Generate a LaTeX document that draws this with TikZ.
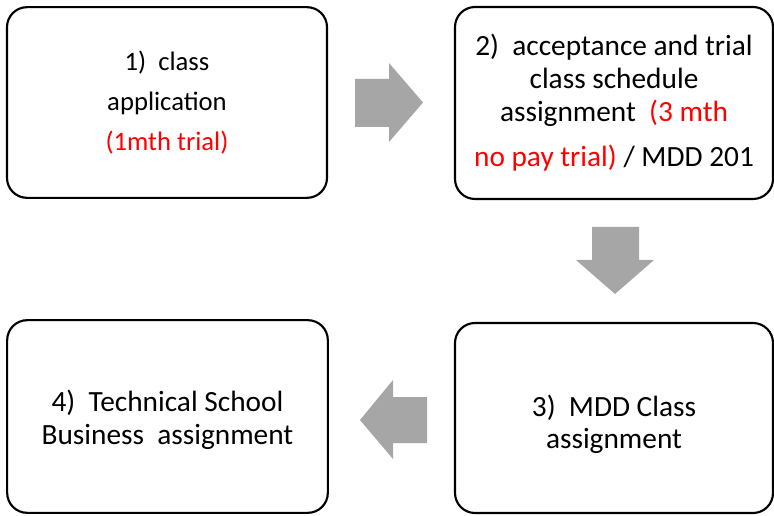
\documentclass[tikz,border=0pt]{standalone}
\usepackage{fontspec}
\setmainfont{Carlito}
\begin{document}
\begin{tikzpicture}[x=0.75pt,y=-0.75pt,
  stepbox/.style={draw=black,line width=1.6pt,rounded corners=15pt,inner sep=0pt,outer sep=0pt,align=center,font=\fontsize{22}{24.75}\selectfont},
  blockarrow/.style={fill=black!35,draw=none}]
\useasboundingbox (0,0) rectangle (774,516);
\node[stepbox,minimum width=240pt,minimum height=143pt,font=\fontsize{20}{30}\selectfont] (b1) at (167,102.5)
  {1)\ \ class\\ application\\ \textcolor{red}{(1mth trial)}};
\node[stepbox,minimum width=238.5pt,minimum height=144pt] (b2) at (614,103)
  {2)\ \ acceptance and trial\\ class schedule\\ assignment\ \ \textcolor{red}{(3 mth}\\[9pt] \textcolor{red}{no pay trial)} / MDD 201};
\node[stepbox,minimum width=238.5pt,minimum height=142.5pt,font=\fontsize{22}{24}\selectfont] (b3) at (614,418)
  {\rule{0pt}{25pt}3)\ \ MDD Class\\ assignment};
\node[stepbox,minimum width=240.5pt,minimum height=144.5pt,font=\fontsize{22}{24.75}\selectfont] (b4) at (167.5,416.5)
  {\rule{0pt}{21pt}4)\ \ Technical School\\ Business\ \ assignment};
% right arrow
\fill[blockarrow] (355,79) -- (389,79) -- (389,63) -- (423,102.5) -- (389,142) -- (389,127) -- (355,127) -- cycle;
% down arrow
\fill[blockarrow] (592,227) -- (639,227) -- (639,260) -- (654,260) -- (615,294) -- (576,260) -- (592,260) -- cycle;
% left arrow
\fill[blockarrow] (427,397) -- (393,397) -- (393,380) -- (360,420) -- (393,459) -- (393,443) -- (427,443) -- cycle;
\end{tikzpicture}
\end{document}
